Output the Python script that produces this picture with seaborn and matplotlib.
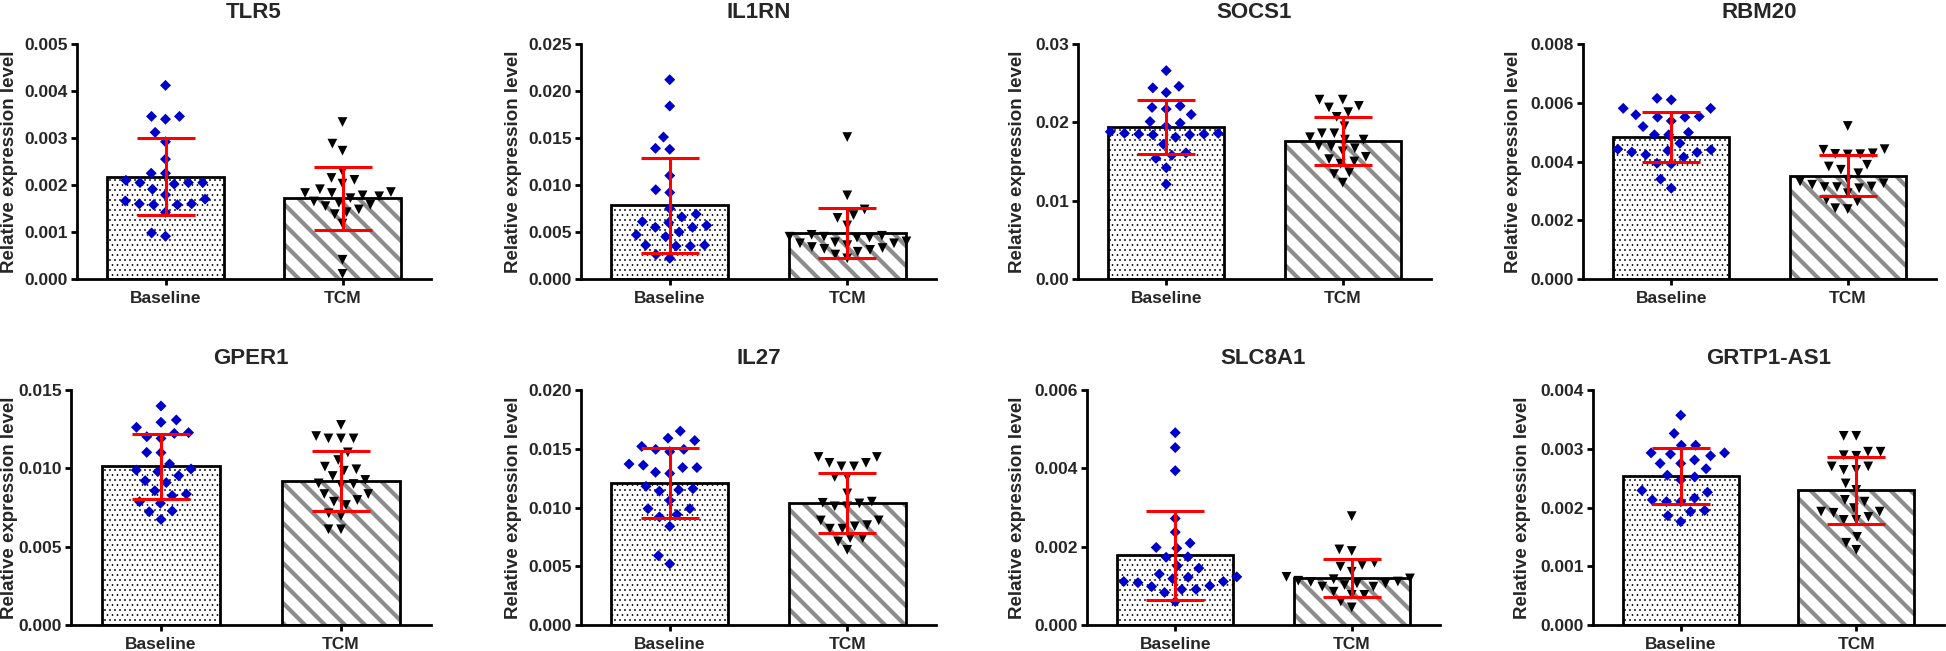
import numpy as np
import pandas as pd
import matplotlib
matplotlib.use("Agg")
import matplotlib.pyplot as plt
import seaborn as sns
from matplotlib.backend_bases import GraphicsContextBase
from matplotlib.ticker import MultipleLocator, FormatStrFormatter

# ---------------- data (values in units of 1e-3) ----------------
UNIT = 1e-3
GENES = ["TLR5", "IL1RN", "SOCS1", "RBM20", "GPER1", "IL27", "SLC8A1", "GRTP1-AS1"]
GROUPS = ["Baseline", "TCM"]

tlr5_baseline = [4.12, 3.46, 3.46, 3.40, 3.12, 2.92, 2.55, 2.25, 2.25, 2.10, 2.05, 2.02, 2.05,
                 2.05, 1.91, 1.79, 1.66, 1.60, 1.58, 1.58, 1.60, 1.70, 1.42, 0.91, 0.98]
tlr5_tcm = [3.34, 2.88, 2.73, 2.29, 2.15, 2.11, 2.03, 1.91, 1.85, 1.83, 1.83, 1.78, 1.76,
            1.72, 1.65, 1.62, 1.58, 1.55, 1.48, 1.42, 1.38, 1.18, 0.41, 0.11]
il1rn_baseline = [21.2, 18.4, 15.1, 13.8, 13.9, 11.0, 9.2, 9.5, 7.5, 6.9, 6.6, 6.1, 6.0,
                  5.7, 5.5, 5.5, 5.0, 4.7, 4.5, 3.6, 3.5, 3.5, 3.6, 2.6, 2.2]
il1rn_tcm = [15.1, 8.9, 7.4, 6.8, 6.5, 5.7, 4.7, 4.6, 4.5, 4.5, 4.4, 4.4, 4.0, 3.9, 3.8,
             3.8, 3.6, 3.4, 3.3, 3.2, 3.1, 2.9, 2.6, 2.2]
socs1_baseline = [26.6, 24.6, 24.4, 23.8, 22.1, 21.9, 21.7, 21.0, 20.1, 19.9, 19.5, 18.8, 18.6,
                  18.6, 18.5, 18.4, 18.4, 18.5, 18.1, 17.2, 16.1, 15.8, 15.4, 14.2, 12.1]
socs1_tcm = [22.9, 22.9, 22.1, 21.9, 21.3, 20.7, 19.5, 18.6, 18.6, 18.1, 17.8, 17.8, 17.0,
             16.9, 16.7, 16.3, 15.6, 15.3, 15.0, 14.7, 13.6, 13.4, 12.3]
rbm20_baseline = [6.15, 6.10, 5.81, 5.81, 5.53, 5.51, 5.51, 5.59, 5.38, 5.19, 4.99, 4.91, 4.91,
                  4.62, 4.40, 4.32, 4.42, 4.37, 4.31, 4.23, 4.15, 3.94, 3.92, 3.40, 3.09]
rbm20_tcm = [5.21, 4.42, 4.40, 4.28, 4.26, 4.25, 4.24, 3.89, 3.83, 3.72, 3.60, 3.38, 3.32,
             3.26, 3.21, 3.15, 3.13, 3.09, 3.13, 2.92, 2.70, 2.64, 2.41, 2.38]
gper1_baseline = [13.98, 13.09, 12.94, 12.62, 12.28, 12.23, 12.02, 11.91, 11.00, 11.02, 10.28,
                  9.89, 9.96, 9.79, 9.53, 9.21, 9.09, 8.57, 8.36, 8.26, 7.87, 7.77, 7.28, 7.23, 6.74]
gper1_tcm = [12.77, 12.06, 11.91, 11.91, 11.91, 11.02, 10.53, 10.11, 9.94, 9.85, 9.51, 9.26,
             9.04, 9.00, 8.94, 8.36, 8.36, 7.98, 7.87, 7.66, 7.13, 6.96, 6.11, 6.11]
il27_baseline = [16.5, 15.9, 15.7, 15.2, 14.95, 14.75, 14.95, 13.6, 13.4, 13.4, 13.7, 12.9, 13.0,
                 11.8, 11.6, 11.5, 11.4, 10.6, 9.9, 9.9, 9.4, 9.2, 8.4, 5.9, 5.2]
il27_tcm = [14.3, 14.3, 13.8, 13.8, 13.5, 13.5, 12.6, 12.6, 11.2, 10.5, 10.4, 10.35, 10.1,
            10.1, 8.9, 8.9, 8.5, 8.4, 8.2, 8.2, 7.4, 7.4, 7.1, 6.4]
slc8a1_baseline = [4.91, 4.53, 3.94, 2.72, 2.37, 2.09, 1.98, 1.96, 1.74, 1.73, 1.51, 1.45, 1.30,
                   1.23, 1.22, 1.18, 1.11, 1.11, 1.08, 1.00, 0.98, 0.91, 0.91, 0.83, 0.60]
slc8a1_tcm = [2.78, 1.93, 1.89, 1.59, 1.49, 1.53, 1.36, 1.23, 1.19, 1.17, 1.13, 1.11, 1.10,
              1.06, 1.06, 1.02, 0.98, 0.98, 0.85, 0.77, 0.77, 0.60, 0.45]
grtp1_baseline = [3.57, 3.26, 3.06, 3.06, 2.93, 2.93, 2.91, 2.88, 2.81, 2.75, 2.75, 2.66, 2.55,
                  2.52, 2.47, 2.29, 2.26, 2.16, 2.13, 2.10, 2.10, 1.93, 1.95, 1.86, 1.76]
grtp1_tcm = [3.22, 3.22, 2.95, 2.95, 2.88, 2.89, 2.70, 2.70, 2.64, 2.64, 2.41, 2.30, 2.13,
             2.10, 1.99, 1.93, 1.91, 1.93, 1.84, 1.79, 1.79, 1.50, 1.40, 1.28]

# bar heights (mean) and error bars (SD)
mean_baseline = [2.18, 7.85, 19.4, 4.83, 10.12, 12.1, 1.78, 2.54]
sd_baseline = [0.82, 5.05, 3.4, 0.845, 2.1, 3.0, 1.14, 0.48]
mean_tcm = [1.72, 4.9, 17.65, 3.52, 9.2, 10.35, 1.2, 2.29]
sd_tcm = [0.67, 2.65, 3.05, 0.71, 1.9, 2.55, 0.495, 0.575]

# axis settings
y_max = [5, 25, 30, 8, 15, 20, 6, 4]
y_step = [1, 5, 10, 2, 5, 5, 2, 1]
y_decimals = [3, 3, 2, 3, 3, 3, 3, 3]

points = {
    "TLR5": (tlr5_baseline, tlr5_tcm),
    "IL1RN": (il1rn_baseline, il1rn_tcm),
    "SOCS1": (socs1_baseline, socs1_tcm),
    "RBM20": (rbm20_baseline, rbm20_tcm),
    "GPER1": (gper1_baseline, gper1_tcm),
    "IL27": (il27_baseline, il27_tcm),
    "SLC8A1": (slc8a1_baseline, slc8a1_tcm),
    "GRTP1-AS1": (grtp1_baseline, grtp1_tcm),
}

# ---------------- style ----------------
# denser hatch tiles (lines / dots per inch)
_orig_ghp = GraphicsContextBase.get_hatch_path
def _ghp(self, density=10.0):
    return _orig_ghp(self, density)
GraphicsContextBase.get_hatch_path = _ghp

sns.set_style("ticks")
plt.rcParams["font.family"] = ["Liberation Sans", "DejaVu Sans"]
plt.rcParams["font.weight"] = "bold"
plt.rcParams["axes.labelweight"] = "bold"
plt.rcParams["axes.titleweight"] = "bold"

BLUE = "#0000C8"
RED = "#FF0000"
STRIPE = "#8C8C8C"

W, H = 1946, 651
fig = plt.figure(figsize=(W / 100, H / 100), dpi=100)
fig.patch.set_facecolor("white")

# panel boxes in pixels: left, right, top, bottom ; y-label right edge x in pixels
boxes = [
    (77, 431, 44, 279), (581, 936, 44, 279), (1078, 1431, 44, 279), (1583, 1936, 44, 279),
    (71, 431, 390, 625), (581, 936, 390, 625), (1087, 1440, 390, 625), (1593, 1944, 390, 625),
]
ylabel_x = [18, 522, 1026, 1522, 18, 522, 1026, 1531]


def swarm(ax, df, marker, color, size, spacing_lw):
    before = len(ax.collections)
    sns.swarmplot(data=df, x="group", y="value", order=GROUPS, marker=marker, color=color,
                  size=size, ax=ax, zorder=3, warn_thresh=1)
    for c in ax.collections[before:]:
        if len(c.get_offsets()) > 0:
            c.set_edgecolor("none")
            c.set_linewidth(spacing_lw)   # widens the swarm spacing, edge itself invisible
            c.set_clip_on(False)


for i, gene in enumerate(GENES):
    l, r, t, b = boxes[i]
    ax = fig.add_axes([l / W, 1 - b / H, (r - l) / W, (b - t) / H])
    ax.set_facecolor("none")

    means_df = pd.DataFrame({"group": GROUPS,
                             "mean": [mean_baseline[i] * UNIT, mean_tcm[i] * UNIT]})
    sds = [sd_baseline[i] * UNIT, sd_tcm[i] * UNIT]

    # hatched bar fill
    sns.barplot(data=means_df, x="group", y="mean", order=GROUPS, color="white",
                width=0.66, errorbar=None, ax=ax, zorder=1)
    fills = list(ax.patches)
    for p, (htch, hc, hlw) in zip(fills, [("..", "black", 0.55), ("\\", STRIPE, 3.0)]):
        p.set_facecolor("white")
        p.set_edgecolor(hc)
        p.set_hatch(htch)
        p.set_linewidth(0)
        if hasattr(p, "set_hatch_linewidth"):
            p.set_hatch_linewidth(hlw)
    # bar outlines
    sns.barplot(data=means_df, x="group", y="mean", order=GROUPS, color="black",
                fill=False, linewidth=2.0, width=0.66, errorbar=None, ax=ax, zorder=2)

    # individual points
    pts_b, pts_t = points[gene]
    df_b = pd.DataFrame({"group": "Baseline", "value": np.array(pts_b) * UNIT})
    df_t = pd.DataFrame({"group": "TCM", "value": np.array(pts_t) * UNIT})
    swarm(ax, df_b, "D", BLUE, 5.6, 4.2)
    swarm(ax, df_t, "v", "black", 7.0, 1.6)

    # mean +/- SD
    ax.errorbar(x=[0, 1], y=means_df["mean"], yerr=sds, fmt="none", ecolor=RED,
                elinewidth=2.2, capsize=21, capthick=2.2, zorder=6, clip_on=False)

    ax.set_xlim(-0.5, 1.5)
    ax.set_ylim(0, y_max[i] * UNIT)
    ax.yaxis.set_major_locator(MultipleLocator(y_step[i] * UNIT))
    ax.yaxis.set_major_formatter(FormatStrFormatter(f"%.{y_decimals[i]}f"))
    sns.despine(ax=ax)
    for s in ("left", "bottom"):
        ax.spines[s].set_linewidth(2.0)
        ax.spines[s].set_color("black")
    ax.tick_params(axis="both", direction="out", length=4.5, width=2.0, color="black",
                   labelsize=12.5, pad=2)
    ax.tick_params(axis="x", pad=4)
    for lab in ax.get_xticklabels() + ax.get_yticklabels():
        lab.set_fontweight("bold")
    ax.set_xlabel("")
    ax.set_ylabel("Relative expression level", fontsize=13.5, fontweight="bold")
    ax.yaxis.set_label_coords((ylabel_x[i] - l) / (r - l), 0.5)
    ax.set_title(gene, fontsize=16, fontweight="bold", pad=19)
    ax.grid(False)

fig.savefig("out.png", dpi=100, facecolor="white")
